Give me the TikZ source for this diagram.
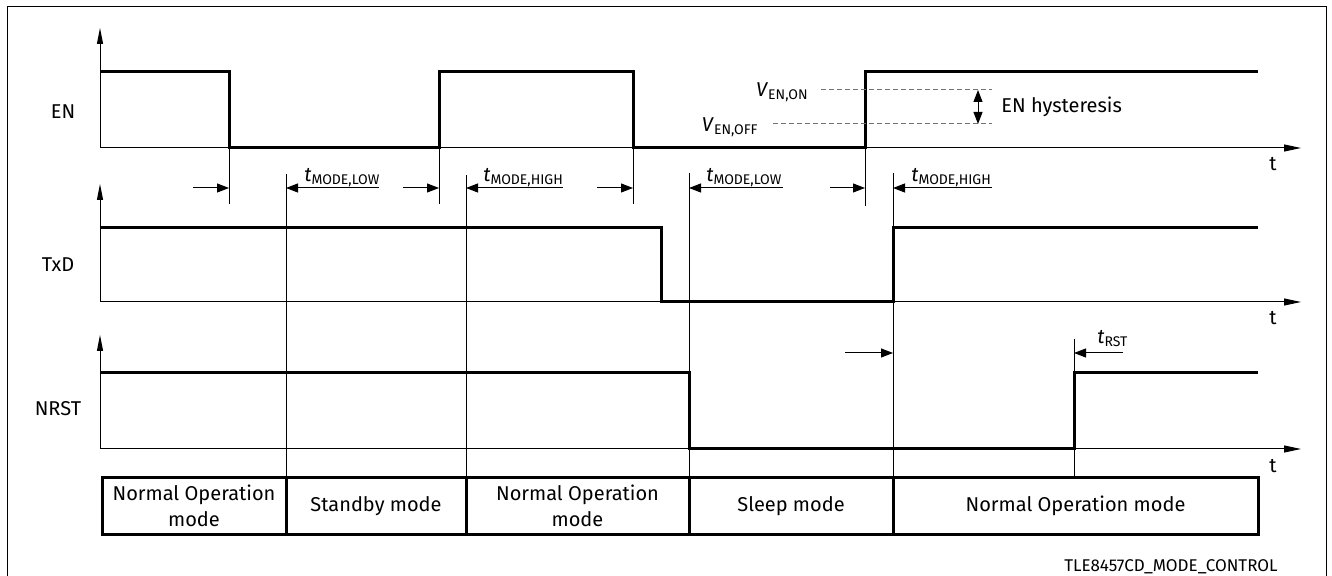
\documentclass[tikz,border=0pt]{standalone}
\usepackage{fontspec}
\setmainfont{Fira Sans}
\usetikzlibrary{arrows.meta}
\begin{document}
\begin{tikzpicture}[x=0.5pt,y=-0.5pt,
  sig/.style={line width=1.5pt, line join=miter},
  thinline/.style={line width=0.5pt},
  axisup/.style={line width=0.5pt, -{Triangle[length=8pt,width=3pt]}},
  axisright/.style={line width=0.5pt, -{Triangle[length=8.5pt,width=3.5pt]}},
  dim/.style={line width=0.5pt, -{Triangle[length=6pt,width=4.5pt]}},
  dimboth/.style={line width=0.5pt, {Triangle[length=6pt,width=4.5pt]}-{Triangle[length=6pt,width=4.5pt]}},
  lvl/.style={line width=0.5pt, draw=black!55, dash pattern=on 2.5pt off 1.5pt},
  siglabel/.style={font=\fontsize{10}{12}\selectfont},
  tlabel/.style={font=\fontsize{10}{12}\selectfont, inner sep=0pt},
  dimlabel/.style={font=\fontsize{10}{12}\selectfont, inner sep=0pt, anchor=base west},
  modebox/.style={line width=1.5pt},
  modetext/.style={font=\fontsize{10}{13}\selectfont, align=center, inner sep=0pt}
]
\useasboundingbox (0,0) rectangle (1332,576);
% frame
\draw[thinline] (7,576) -- (7,7) -- (1326,7) -- (1326,576);

% ---------- EN ----------
\coordinate (ENo) at (100,148);
\coordinate (ENtop) at (100,28);
\coordinate (ENend) at (1301,148);
\draw[axisup] (ENo) -- (ENtop);
\draw[axisright] (ENo) -- (ENend);
\node[siglabel] (ENlab) at (63,112) {EN};
\node[tlabel] (ENt) at (1273,164) {t};
\draw[sig] (100,72) -- (229,72) -- (229,148) -- (439,148) -- (439,72) -- (633,72)
  -- (633,148) -- (865,148) -- (865,72) -- (1258,72);

% hysteresis
\node[dimlabel, anchor=base east] (von) at (809,97) {\textit{V}\textsubscript{EN,ON}};
\node[dimlabel, anchor=base east] (voff) at (759,132) {\textit{V}\textsubscript{EN,OFF}};
\coordinate (onA) at (821,90);  \coordinate (onB) at (992,90);
\coordinate (offA) at (773,124); \coordinate (offB) at (992,124);
\draw[lvl] (onA) -- (onB);
\draw[lvl] (offA) -- (offB);
\draw[dimboth] (978,90) -- (978,124);
\node[siglabel, anchor=west, inner sep=0pt] (hyst) at (1001,107) {EN hysteresis};

% ---------- TxD ----------
\draw[axisup] (100,302) -- (100,184);
\draw[axisright] (100,302) -- (1301,302);
\node[siglabel] (TxDlab) at (58,265) {TxD};
\node[tlabel] (TxDt) at (1273,318) {t};
\draw[sig] (100,228) -- (661,228) -- (661,302) -- (893,302) -- (893,228) -- (1258,228);

% ---------- NRST ----------
\draw[axisup] (100,449) -- (100,335);
\draw[axisright] (100,449) -- (1301,449);
\node[siglabel] (NRSTlab) at (58,409) {NRST};
\node[tlabel] (NRSTt) at (1273,466) {t};
\draw[sig] (100,373) -- (689,373) -- (689,449) -- (1074,449) -- (1074,373) -- (1258,373);

% ---------- reference lines ----------
\draw[thinline] (229,148) -- (229,204);
\draw[thinline] (439,148) -- (439,204);
\draw[thinline] (633,148) -- (633,204);
\draw[thinline] (865,148) -- (865,206);
\draw[thinline] (286,174) -- (286,478);
\draw[thinline] (466,175) -- (466,478);
\draw[thinline] (689,173) -- (689,478);
\draw[thinline] (893,173) -- (893,478);
\draw[thinline] (1074,339) -- (1074,478);

% ---------- dimension arrows ----------
\draw[dim] (193,188) -- (229,188);
\draw[dim] (379,188) -- (286,188);
\node[dimlabel] (tml1) at (304,182) {\textit{t}\textsubscript{MODE,LOW}};
\draw[dim] (403,188) -- (439,188);
\draw[dim] (563,188) -- (466,188);
\node[dimlabel] (tmh1) at (483,182) {\textit{t}\textsubscript{MODE,HIGH}};
\draw[dim] (597,188) -- (633,188);
\draw[dim] (783,188) -- (689,188);
\node[dimlabel] (tml2) at (706,182) {\textit{t}\textsubscript{MODE,LOW}};
\draw[dim] (830,188) -- (865,188);
\draw[dim] (992,188) -- (893,188);
\node[dimlabel] (tmh2) at (911,182) {\textit{t}\textsubscript{MODE,HIGH}};
\draw[dim] (845,353) -- (893,353);
\draw[dim] (1123,353) -- (1074,353);
\node[dimlabel] (trst) at (1097,344) {\textit{t}\textsubscript{RST}};

% ---------- mode boxes ----------
\draw[modebox] (102,478) rectangle (1258,534);
\draw[modebox] (286,478) -- (286,534);
\draw[modebox] (466,478) -- (466,534);
\draw[modebox] (689,478) -- (689,534);
\draw[modebox] (893,478) -- (893,534);
\node[modetext] (m1) at (194,506) {Normal Operation\\mode};
\node[modetext] (m2) at (376,506) {Standby mode};
\node[modetext] (m3) at (577.5,506) {Normal Operation\\mode};
\node[modetext] (m4) at (791,506) {Sleep mode};
\node[modetext] (m5) at (1075.5,506) {Normal Operation mode};

\node[font=\fontsize{8.5}{10}\selectfont, anchor=east, inner sep=0pt] (foot) at (1278,567) {TLE8457CD\_MODE\_CONTROL};
\end{tikzpicture}
\end{document}
